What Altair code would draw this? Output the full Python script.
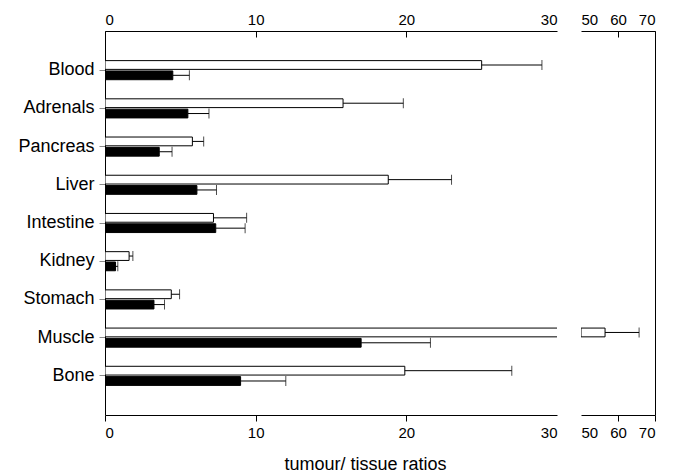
import altair as alt
import pandas as pd

organs = ["Blood", "Adrenals", "Pancreas", "Liver", "Intestine", "Kidney", "Stomach", "Muscle", "Bone"]
series = ["open", "filled"]
open_vals = [25.0, 15.8, 5.8, 18.8, 7.2, 1.6, 4.4, 56.5, 19.9]
open_err = [29.0, 19.8, 6.55, 23.0, 9.4, 1.85, 4.95, 65.7, 27.0]
filled_vals = [4.5, 5.5, 3.6, 6.1, 7.35, 0.7, 3.25, 17.0, 9.0]
filled_err = [5.6, 6.9, 4.45, 7.4, 9.3, 0.85, 3.95, 21.6, 12.0]

rows = []
for i, o in enumerate(organs):
    rows.append(dict(organ=o, series="open", value=open_vals[i], err=open_err[i]))
    rows.append(dict(organ=o, series="filled", value=filled_vals[i], err=filled_err[i]))
df = pd.DataFrame(rows)
df["zero"] = 0.0
df["fifty"] = 50.0

FONT = "Liberation Sans"
H = 384
WL = 452
WR = 74

yscale = alt.Scale(domain=organs, paddingInner=0.5, paddingOuter=0.775)
yoff = alt.YOffset("series:N", scale=alt.Scale(domain=series, paddingInner=0.15))
fill = alt.Fill("series:N", scale=alt.Scale(domain=series, range=["white", "black"]), legend=None)

def hide_tick(v):
    return {"condition": {"test": f"datum.value === {v}", "value": "transparent"}, "value": "black"}

# ---------- left panel ----------
xl = alt.Scale(domain=[0, 30], nice=False, zero=False)
yl = alt.Y("organ:N", sort=organs, scale=yscale,
           axis=alt.Axis(orient="left", title=None, tickSize=6, labelPadding=5, labelFontSize=18))

base_l = alt.Chart(df)

bars_l = base_l.mark_bar(clip=True, stroke="black", strokeWidth=1).encode(
    x=alt.X("value:Q", scale=xl,
            axis=alt.Axis(orient="bottom", values=[0, 10, 20, 30], tickSize=6, tickColor=hide_tick(30),
                          labelPadding=4, title="tumour/ tissue ratios", titleFontSize=18,
                          titleFontWeight="normal", titlePadding=15, titleX=260, grid=False)),
    x2="zero:Q",
    y=yl,
    yOffset=yoff,
    fill=fill,
)

rule_l = base_l.mark_rule(clip=True, color="black", strokeWidth=1).encode(
    x=alt.X("value:Q", scale=xl,
            axis=alt.Axis(orient="top", values=[0, 10, 20, 30], ticks=False, labelPadding=4,
                          title=None, grid=False)),
    x2="err:Q",
    y=yl,
    yOffset=yoff,
)

tick_l = base_l.mark_tick(clip=True, color="black", thickness=1, size=10).encode(
    x=alt.X("err:Q", scale=xl,
            axis=alt.Axis(orient="bottom", offset=-H, values=[0, 10, 20, 30], tickSize=6,
                          tickColor=hide_tick(30), labels=False, domain=False, title=None, grid=False)),
    y=yl,
    yOffset=yoff,
)

left = alt.layer(bars_l, rule_l, tick_l).resolve_axis(x="independent").properties(width=WL, height=H)

# ---------- right panel ----------
dr = df[(df["organ"] == "Muscle") & (df["series"] == "open")]
xr = alt.Scale(domain=[50, 70], nice=False, zero=False)
yr = alt.Y("organ:N", sort=organs, scale=yscale,
           axis=alt.Axis(orient="right", labels=False, ticks=False, title=None))
base_r = alt.Chart(dr)

bars_r = base_r.mark_bar(clip=True, stroke="black", strokeWidth=1).encode(
    x=alt.X("fifty:Q", scale=xr,
            axis=alt.Axis(orient="bottom", values=[50, 60, 70], tickSize=6, tickColor=hide_tick(50),
                          labelPadding=4, title=None, grid=False)),
    x2="value:Q",
    y=yr,
    yOffset=yoff,
    fill=fill,
)

rule_r = base_r.mark_rule(clip=True, color="black", strokeWidth=1).encode(
    x=alt.X("value:Q", scale=xr,
            axis=alt.Axis(orient="top", values=[50, 60, 70], ticks=False, labelPadding=4,
                          title=None, grid=False)),
    x2="err:Q",
    y=yr,
    yOffset=yoff,
)

tick_r = base_r.mark_tick(clip=True, color="black", thickness=1, size=10).encode(
    x=alt.X("err:Q", scale=xr,
            axis=alt.Axis(orient="bottom", offset=-H, values=[50, 60, 70], tickSize=6,
                          tickColor=hide_tick(50), labels=False, domain=False, title=None, grid=False)),
    y=yr,
    yOffset=yoff,
)

right = alt.layer(bars_r, rule_r, tick_r).resolve_axis(x="independent").properties(width=WR, height=H)

chart = (
    alt.hconcat(left, right, spacing=22)
    .properties(padding={"left": 9, "top": 4, "right": 5, "bottom": 0})
    .configure_view(stroke=None)
    .configure_axis(domainColor="black", domainWidth=1, labelFont=FONT, titleFont=FONT,
                    labelFontSize=15, labelColor="black", titleColor="black")
)

chart.save("out.html", embed_options={"renderer": "svg", "actions": False})
